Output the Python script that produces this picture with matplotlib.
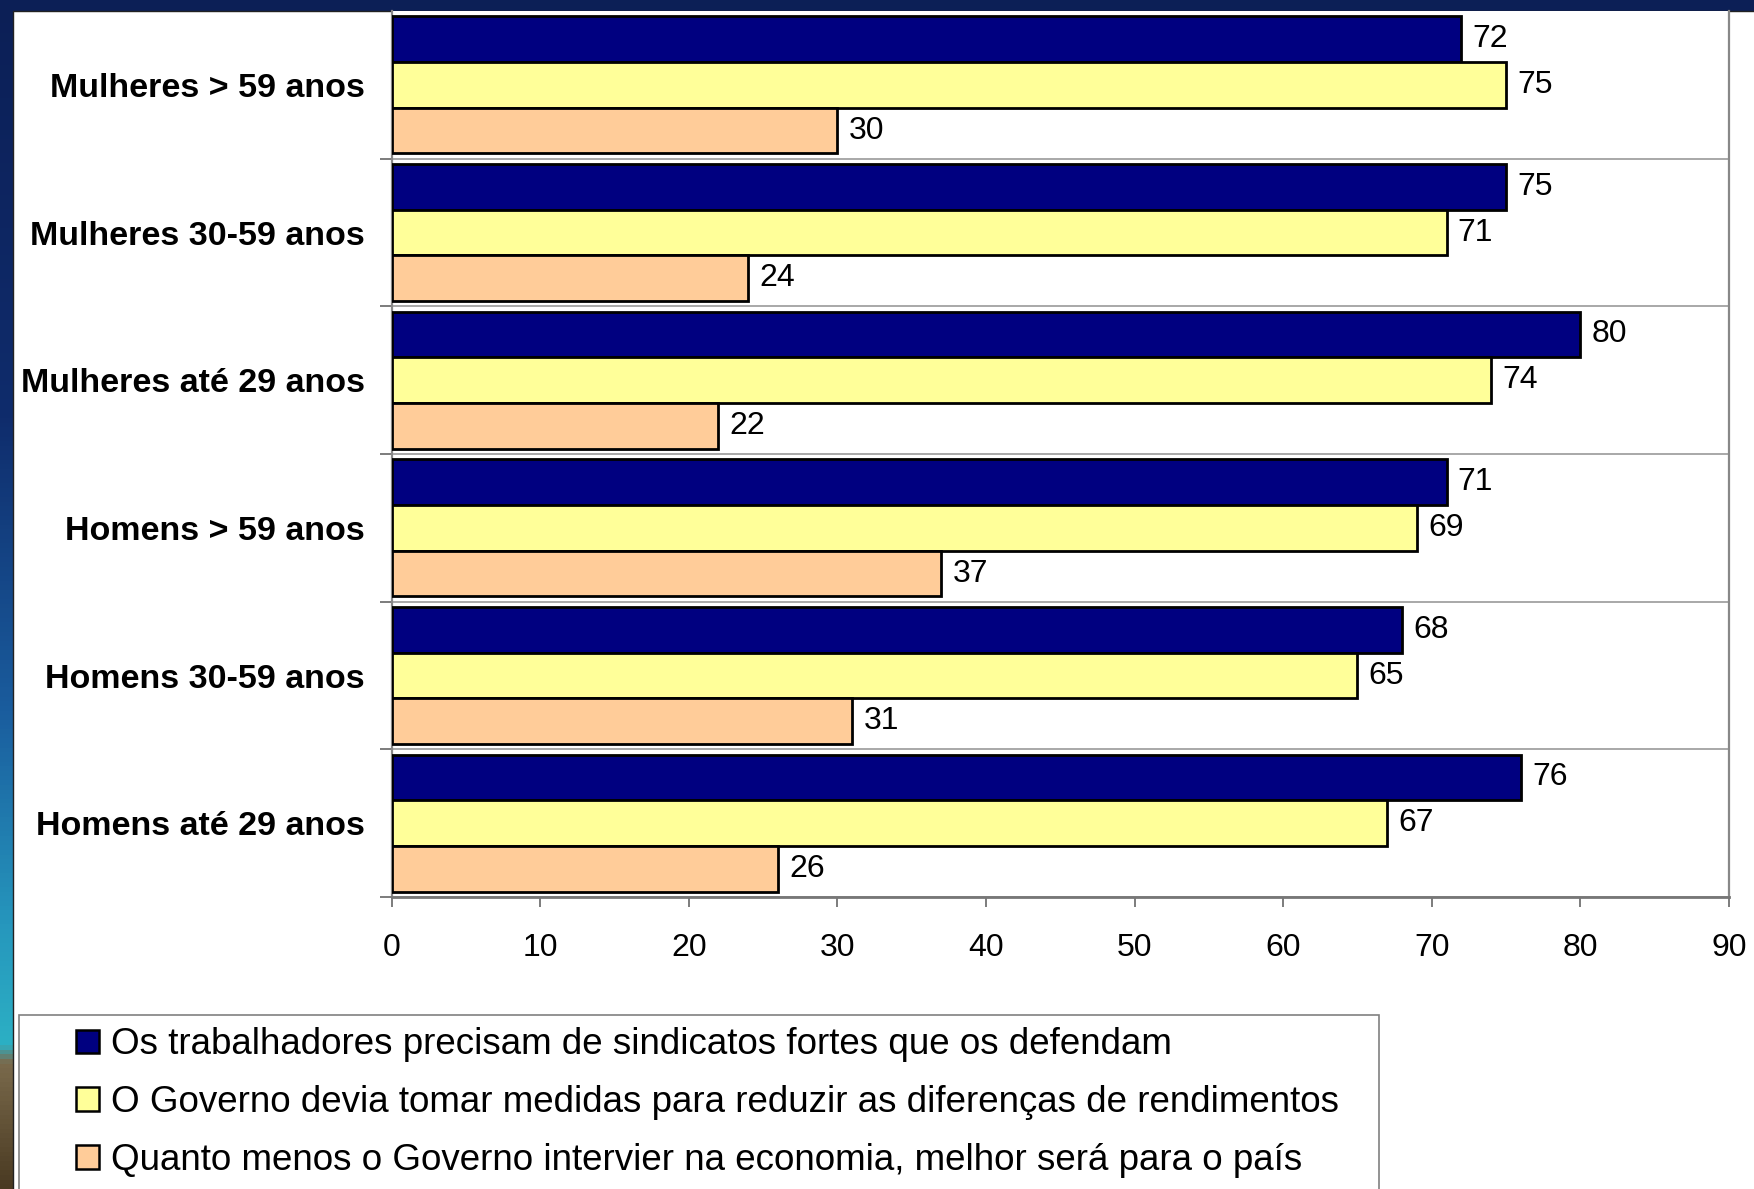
import numpy as np
import matplotlib
matplotlib.use("Agg")
import matplotlib.pyplot as plt
from matplotlib.patches import Patch, Rectangle
from matplotlib.colors import LinearSegmentedColormap

plt.rcParams["font.family"] = ["Liberation Sans", "DejaVu Sans"]

# --- data -------------------------------------------------------------------
categories = ["Mulheres > 59 anos", "Mulheres 30-59 anos", "Mulheres até 29 anos",
              "Homens > 59 anos", "Homens 30-59 anos", "Homens até 29 anos"]
sindicatos = [72, 75, 80, 71, 68, 76]
reduzir_diferencas = [75, 71, 74, 69, 65, 67]
menos_governo = [30, 24, 22, 37, 31, 26]
series_labels = [
    "Os trabalhadores precisam de sindicatos fortes que os defendam",
    "O Governo devia tomar medidas para reduzir as diferenças de rendimentos",
    "Quanto menos o Governo intervier na economia, melhor será para o país",
]
series_colors = ["#000080", "#FFFF99", "#FFCC99"]
xticks = list(range(0, 91, 10))

W, H = 1754, 1189
fig = plt.figure(figsize=(W / 100, H / 100), dpi=100)

# slide background: dark border with a vertical gradient down the left edge
bg = fig.add_axes([0, 0, 1, 1], zorder=-10)
bg.set_axis_off()
grad = LinearSegmentedColormap.from_list("slide", [
    (0.00, "#0c1f56"), (0.35, "#0f2c6c"), (0.60, "#1a5d9e"),
    (0.78, "#2697bd"), (0.88, "#2cb0c4"), (0.895, "#7a6a4c"), (1.00, "#4a3a22")])
bg.imshow(np.linspace(0, 1, 256)[:, None], cmap=grad, aspect="auto",
          extent=[0, 1, 0, 1])
bg.set_xlim(0, 1)
bg.set_ylim(0, 1)
bg.add_patch(Rectangle((13 / W, -0.05), 1.0, 1 - 11 / H + 0.05, facecolor="white",
                       edgecolor="#222222", linewidth=1))
# legend frame
bg.add_patch(Rectangle((19 / W, -0.05), (1379 - 19) / W, 1 - 1015 / H + 0.05,
                       facecolor="white", edgecolor="#808080", linewidth=1.2))

# --- bar chart ----------------------------------------------------------------
ax = fig.add_axes([391.5 / W, 1 - 897 / H, (1729 - 391.5) / W, (897 - 11) / H])
y = np.arange(len(categories))
h = 0.31
for i, (vals, color) in enumerate(zip([sindicatos, reduzir_diferencas, menos_governo],
                                      series_colors)):
    bars = ax.barh(y + (i - 1) * h, vals, height=h, color=color,
                   edgecolor="black", linewidth=2, zorder=3)
    ax.bar_label(bars, fmt="%d", padding=8, fontsize=23)

ax.set_xlim(0, 90)
ax.set_ylim(len(categories) - 0.5, -0.5)
ax.set_xticks(xticks)
ax.tick_params(axis="x", length=7, width=1.2, color="#666666", labelsize=23, pad=19)

ax.set_yticks(y)
ax.set_yticklabels(categories, fontsize=24.5, fontweight="bold")
ax.tick_params(axis="y", which="major", length=0, pad=19)
ax.set_yticks(np.arange(0.5, len(categories)), minor=True)
ax.tick_params(axis="y", which="minor", length=9, width=1.2, color="#666666")
ax.grid(which="minor", axis="y", color="#999999", linewidth=1.2, zorder=0)

ax.spines["top"].set_visible(False)
for side in ("left", "right"):
    ax.spines[side].set_color("#888888")
    ax.spines[side].set_linewidth(1.6)
ax.spines["bottom"].set_color("#777777")
ax.spines["bottom"].set_linewidth(2)

handles = [Patch(facecolor=c, edgecolor="black", linewidth=1.8) for c in series_colors]
fig.legend(handles, series_labels, loc="upper left",
           bbox_to_anchor=(76 / W, 1 - 1027.5 / H), frameon=False, fontsize=26.5,
           handlelength=0.62, handleheight=0.62, handletextpad=0.33,
           labelspacing=0.62, borderpad=0, borderaxespad=0)

fig.savefig("out.png", dpi=100)
